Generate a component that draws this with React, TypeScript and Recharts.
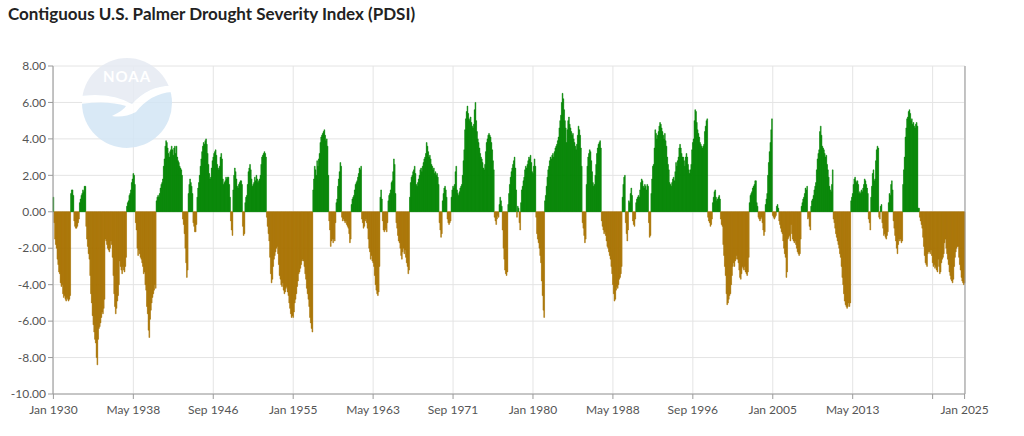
import React from "react";
import { BarChart, Bar, XAxis, YAxis, CartesianGrid, Cell } from "recharts";

// monthly contiguous U.S. PDSI, one row per year starting Jan 1930 (last row: Jan 2025)
const firstYear = 1930;
const monthNames = ["Jan", "Feb", "Mar", "Apr", "May", "Jun", "Jul", "Aug", "Sep", "Oct", "Nov", "Dec"];

const pdsiByYear: number[][] = [
  [0.8, -0.6, -1.5, -1.8, -2.0, -2.6, -2.9, -3.3, -3.4, -3.9, -4.1, -4.0],
  [-4.5, -4.7, -4.6, -4.8, -4.9, -4.7, -4.8, -4.9, -4.8, -4.6, 1.0, 1.2],
  [1.2, 0.9, -0.5, -0.8, -0.9, -0.9, -0.8, -0.6, -0.4, 0.5, 0.7, 0.9],
  [1.0, 1.2, 1.1, 1.4, 1.4, -0.8, -1.5, -1.9, -2.3, -2.6, -3.5, -4.5],
  [-5.0, -5.7, -6.2, -6.6, -7.0, -7.2, -8.0, -8.4, -7.0, -6.4, -6.3, -6.1],
  [-5.8, -5.5, -5.6, -5.3, -4.8, -1.5, -1.6, -1.8, -2.0, -2.1, -2.2, -2.0],
  [-1.6, -1.8, -2.5, -3.5, -4.5, -5.2, -5.6, -5.3, -4.9, -4.6, -4.0, -2.7],
  [-3.0, -3.2, -3.4, -3.0, -3.2, -3.3, -3.0, -2.5, 0.3, 0.5, 0.6, 0.9],
  [1.0, 1.2, 1.6, 1.8, 2.1, 2.0, 1.5, -0.6, -1.0, -2.0, -2.4, -2.1],
  [-2.3, -2.5, -2.6, -2.8, -3.0, -3.4, -3.3, -4.0, -4.3, -5.2, -5.6, -6.5],
  [-6.9, -5.9, -5.4, -5.0, -4.7, -4.5, -4.3, -4.0, -4.2, 0.6, 0.8, 0.9],
  [0.8, 1.0, 1.3, 1.5, 1.6, 1.8, 2.5, 2.9, 3.6, 3.9, 3.8, 3.5],
  [3.2, 3.0, 3.3, 3.4, 3.6, 3.4, 3.1, 3.5, 3.6, 3.2, 3.6, 3.0],
  [2.8, 2.7, 2.5, 2.4, 2.3, 2.0, -0.4, -0.7, -1.2, -2.0, -2.8, -3.6],
  [-3.2, 1.0, 1.5, 1.8, 1.6, 1.4, 1.0, -0.6, -0.8, -1.1, -1.1, -0.7],
  [0.8, 1.3, 1.6, 2.0, 2.5, 2.9, 3.3, 3.6, 3.8, 3.7, 3.9, 4.0],
  [3.7, 3.2, 2.6, 2.1, 1.8, 1.9, 2.4, 2.8, 3.0, 3.2, 3.3, 3.4],
  [3.1, 2.6, 2.4, 2.3, 2.5, 3.0, 3.2, 2.9, 1.8, 1.5, 1.6, 1.7],
  [1.9, 1.8, 1.9, 1.9, 1.5, 0.8, -0.5, -1.0, -1.3, 1.2, 2.0, 2.4],
  [2.2, 1.8, 1.4, 1.3, 1.5, 1.6, 1.7, 1.7, 1.5, -0.8, -1.3, -1.2],
  [0.5, 0.8, 0.9, 1.5, 2.2, 2.4, 2.6, 2.3, 1.8, 1.4, 1.5, 1.6],
  [1.9, 1.7, 2.0, 1.8, 1.6, 1.7, 1.8, 2.0, 2.6, 3.0, 3.1, 3.2],
  [3.3, 3.2, 3.0, -0.3, -0.8, -1.2, -1.6, -2.5, -3.4, -3.9, -3.7, -3.0],
  [-2.6, -2.4, -2.2, -2.0, -1.9, -2.3, -2.9, -3.5, -3.7, -4.0, -4.1, -3.9],
  [-4.3, -4.5, -4.4, -4.2, -4.1, -4.4, -4.6, -5.0, -5.3, -5.6, -5.8, -5.7],
  [-5.8, -5.5, -5.0, -4.8, -4.5, -4.1, -3.8, -3.4, -3.3, -3.1, -2.9, -2.7],
  [-2.6, -2.7, -3.0, -3.4, -3.7, -4.2, -4.5, -4.8, -5.2, -5.8, -6.1, -6.4],
  [-6.6, 1.2, 1.8, 2.5, 2.3, 2.0, 2.8, 2.5, 2.9, 3.2, 3.8, 4.1],
  [4.2, 4.3, 4.4, 4.5, 4.2, 3.9, 4.0, 3.6, 2.0, -0.5, -1.0, -1.9],
  [-1.6, -1.5, -1.7, -1.5, -1.6, -0.6, 0.5, 0.7, 1.4, 1.8, 2.2, 2.7],
  [2.5, -0.3, -0.5, -0.4, -0.5, -0.6, -0.5, -0.7, -0.8, -0.9, -1.2, -1.7],
  [-1.5, 0.4, 0.7, 0.8, 0.9, 1.2, 1.5, 1.6, 1.7, 1.9, 2.1, 2.4],
  [2.3, 2.5, -0.4, -0.6, -0.9, -0.8, -0.5, -0.4, -0.6, -0.9, -1.5, -2.0],
  [-2.2, -2.6, -2.4, -2.7, -2.8, -3.0, -3.5, -4.0, -4.3, -4.5, -4.6, -4.4],
  [-3.0, 0.8, 1.2, 0.7, -0.5, -1.0, -1.1, -1.0, -0.9, -1.1, -0.6, 0.6],
  [0.9, 1.0, 1.2, 1.6, 1.7, 2.2, 2.9, 2.6, 1.0, -0.6, -0.9, -1.3],
  [-1.6, -1.7, -2.0, -2.4, -2.6, -2.2, -2.0, -2.3, -2.1, -2.5, -2.8, -3.0],
  [-3.4, -3.2, 0.8, 1.6, 1.9, 2.0, 2.2, 2.3, 2.5, 2.1, 1.5, 1.4],
  [1.6, 1.8, 2.0, 2.3, 2.4, 2.2, 2.5, 2.7, 2.9, 3.0, 3.2, 3.8],
  [3.6, 3.3, 3.0, 3.1, 2.9, 2.6, 2.5, 2.3, 2.4, 2.1, 2.2, 2.0],
  [2.1, 1.9, 1.5, -0.6, -1.0, -1.4, -1.2, 0.6, 1.0, 1.3, 1.4, 1.2],
  [0.8, -0.4, -0.6, -0.7, -0.6, -0.5, 0.8, 1.2, 1.4, 1.3, 1.5, 2.2],
  [2.5, 1.2, 1.0, 0.9, 1.1, 1.3, 1.4, 1.5, 2.0, 2.8, 3.4, 4.5],
  [5.1, 5.5, 5.8, 5.4, 5.1, 5.0, 5.2, 4.9, 4.7, 4.6, 4.8, 5.6],
  [6.0, 5.0, 4.4, 4.0, 3.8, 3.5, 3.2, 3.0, 2.9, 2.7, 2.4, 2.3],
  [2.6, 3.3, 3.8, 4.0, 4.2, 4.3, 4.2, 4.1, 3.8, 3.4, 2.8, 2.3],
  [-0.3, -0.5, -0.7, -0.4, -0.2, -0.3, 0.4, 0.8, 0.6, 0.3, -1.0, -2.0],
  [-2.6, -3.2, -3.4, -3.5, -3.3, 0.4, 1.0, 1.5, 1.9, 2.2, 2.4, 2.6],
  [2.8, 3.0, 2.4, 1.2, -0.3, 0.3, 0.2, -0.6, -1.0, 0.5, 1.2, 1.4],
  [1.7, 1.9, 2.3, 2.5, 2.4, 2.6, 2.8, 3.0, 2.9, 3.1, 2.7, 2.2],
  [2.1, 2.5, 2.9, 2.5, -0.3, -1.2, -1.5, -1.7, -2.0, -2.4, -2.8, -3.8],
  [-4.6, -5.4, -5.8, 0.6, 0.9, 1.4, 1.9, 2.3, 2.5, 2.8, 3.0, 2.9],
  [3.1, 3.2, 3.0, 3.3, 3.5, 3.6, 3.7, 3.9, 4.1, 4.6, 5.0, 5.3],
  [6.0, 6.5, 6.2, 5.6, 5.0, 4.6, 3.8, 4.5, 5.0, 5.2, 4.8, 4.6],
  [4.4, 4.2, 4.3, 4.0, 3.8, 3.6, 3.4, 3.7, 4.2, 4.7, 4.5, 4.2],
  [3.5, 2.5, -0.6, -0.9, -1.3, -1.7, -1.5, 1.5, 2.5, 3.0, 3.2, 3.4],
  [3.3, 2.8, 2.2, 1.6, 1.4, 1.5, 2.0, 2.6, 3.2, 3.5, 3.7, 3.8],
  [3.9, 3.5, -0.5, -0.8, -1.0, -1.2, -1.1, -1.3, -1.6, -1.9, -2.0, -2.2],
  [-2.4, -2.6, -3.0, -3.4, -4.0, -4.5, -4.9, -4.8, -4.3, -4.1, -4.2, -4.0],
  [-3.7, -3.6, -3.4, -3.0, 0.8, 1.5, 1.9, 2.0, -0.6, -1.2, -1.6, -1.0],
  [0.6, 0.5, 1.0, 1.3, 0.9, -0.5, -0.7, -0.8, -0.4, 0.5, 0.7, 0.8],
  [0.9, 0.8, 1.2, 1.6, 1.8, 1.7, 1.4, 1.3, 1.5, 1.4, 1.2, 1.5],
  [1.4, -0.6, -1.4, -1.3, 1.0, 1.8, 2.5, 2.6, 3.5, 4.5, 4.3, 4.0],
  [4.2, 4.4, 4.7, 4.9, 4.8, 4.6, 4.4, 4.2, 4.0, 4.3, 3.9, 3.6],
  [3.0, 2.6, 2.3, 1.6, 1.5, 1.4, 1.6, 1.8, 1.9, 1.7, 2.2, 2.7],
  [2.5, 2.8, 3.0, 3.5, 3.7, 3.5, 3.2, 3.0, 3.0, 2.8, 2.5, 3.0],
  [3.2, 3.0, 2.6, 2.3, 2.1, 2.3, 2.6, 3.4, 3.8, 4.0, 5.0, 5.6],
  [5.5, 4.9, 4.5, 4.3, 4.1, 3.8, 3.7, 3.6, 3.5, 3.6, 3.7, 4.4],
  [4.7, 5.0, 5.1, -0.3, -0.5, -0.6, -0.8, -0.7, -0.4, 0.5, 0.8, 1.1],
  [1.2, 0.8, 0.6, 0.7, 0.8, 0.9, 0.7, -0.4, -0.7, -0.8, -1.8, -2.4],
  [-3.0, -3.5, -4.5, -5.1, -5.0, -4.8, -4.6, -4.5, -4.0, -3.5, -3.0, -2.8],
  [-3.0, -2.7, -2.6, -2.4, -2.6, -2.8, -3.2, -3.6, -3.7, -3.4, -3.0, -3.1],
  [-3.2, -3.0, -3.3, -3.4, -3.5, -3.3, -2.5, 0.5, 0.9, 1.0, 1.1, 1.3],
  [1.4, 1.5, 1.7, 1.7, 0.5, 0.3, -0.3, -0.4, -0.5, -0.4, -0.3, -0.6],
  [-1.0, -1.3, -1.1, 0.4, 0.7, 1.0, 2.0, 2.7, 3.3, 3.8, 4.5, 5.1],
  [-0.2, -0.3, -0.4, -0.3, -0.2, 0.3, 0.4, 0.2, -0.5, -0.7, -0.9, -1.1],
  [-1.2, -1.6, -2.0, -2.3, -2.5, -3.6, -3.3, -1.5, -1.4, -1.3, -1.6, -0.7],
  [-1.2, -1.5, -1.6, -1.7, -1.6, -1.8, -2.0, -2.2, -2.3, -2.4, -2.3, -1.5],
  [0.3, 0.5, 0.7, 0.8, 1.0, 1.3, 1.2, 1.4, -0.4, -0.3, -0.8, -1.0],
  [0.3, 0.6, 0.7, 0.9, 1.2, 1.4, 1.6, 2.3, 2.9, 3.2, 3.4, 4.4],
  [4.7, 4.2, 3.6, 3.5, 3.4, 3.2, 3.0, 3.1, 2.6, 2.3, 1.9, 1.4],
  [1.2, 1.1, 1.5, 2.3, -0.4, -0.6, -0.9, -1.2, -1.4, -1.6, -1.8, -2.0],
  [-2.3, -2.5, -3.0, -3.6, -4.0, -4.5, -4.9, -5.1, -5.2, -5.3, -5.2, -5.0],
  [-5.2, -5.0, 0.6, 0.8, 1.0, 1.5, 1.8, 1.9, 1.7, 1.6, 1.7, 1.5],
  [1.0, 1.1, 1.0, 1.2, 1.1, 1.3, 1.5, 1.8, 1.7, 1.5, 1.3, 1.0],
  [-0.4, -0.6, -1.0, 0.8, 1.4, 2.1, 2.3, 1.7, 1.8, 2.8, 3.4, 3.6],
  [3.5, -0.3, -0.4, 0.3, 0.4, -0.6, -0.9, -1.3, -1.2, -1.4, -1.5, -1.3],
  [-1.1, 0.5, 1.0, 0.9, 1.5, 1.7, 1.2, -0.5, -0.9, -1.3, -1.6, -2.0],
  [-2.3, -1.8, -1.5, -1.6, -1.5, -1.7, -1.6, 1.5, 2.3, 3.0, 4.1, 4.6],
  [5.1, 5.2, 5.5, 5.6, 5.4, 5.0, 5.1, 4.8, 4.9, 4.7, 4.6, 4.8],
  [4.9, 4.7, 0.2, 0.2, -0.3, -0.5, -0.7, -0.9, -1.4, -1.9, -2.4, -2.8],
  [-2.9, -3.0, -2.3, -2.2, -2.2, -2.3, -2.1, -2.4, -2.8, -3.0, -2.9, -3.1],
  [-3.0, -3.2, -3.3, -2.6, -3.0, -3.4, -3.3, -2.8, -2.6, -2.5, -2.3, -1.7],
  [-1.5, -2.0, -2.3, -2.6, -2.9, -3.3, -3.5, -3.7, -3.8, -3.9, -3.7, -3.0],
  [-2.5, -2.2, -2.0, -1.9, -1.9, -2.5, -2.9, -3.2, -3.6, -3.8, -3.9, -4.0],
  [-3.9],
];

const xTicks = [
  "Jan 1930", "May 1938", "Sep 1946", "Jan 1955", "May 1963", "Sep 1971",
  "Jan 1980", "May 1988", "Sep 1996", "Jan 2005", "May 2013", "Sep 2021", "Jan 2025",
];
// tick kept for its gridline, label dropped (it would overlap the last one)
const hiddenXLabels = ["Sep 2021"];
const yTicks = [-10, -8, -6, -4, -2, 0, 2, 4, 6, 8];

const GREEN = "#008400";
const BROWN = "#a87300";
const FONT = "Lato, 'Open Sans', sans-serif";

const data = pdsiByYear.flatMap((row, yi) =>
  row.map((v, mi) => ({ month: `${monthNames[mi]} ${firstYear + yi}`, pdsi: v })),
);

const tickStyle = { fill: "#555", fontSize: 12, fontFamily: FONT };

const NoaaMark = () => (
  <svg
    width={1024}
    height={436}
    style={{ position: "absolute", left: 0, top: 0, pointerEvents: "none" }}
  >
    <defs>
      <clipPath id="noaaClip">
        <circle cx={127} cy={103} r={45} />
      </clipPath>
    </defs>
    <g clipPath="url(#noaaClip)" opacity={0.85}>
      <rect x={80} y={56} width={95} height={95} fill="#d3e6f5" />
      <path d="M80 56 H175 V86 Q150 84 132 104 Q112 92 80 96 Z" fill="#e6eaf2" />
      <path
        d="M80 96 Q112 92 132 104 Q150 84 175 86 L175 92 Q152 92 136 112 Q124 118 112 116 Q124 110 126 106 Q108 100 80 104 Z"
        fill="#ffffff"
      />
    </g>
    <text
      x={127}
      y={82}
      textAnchor="middle"
      fontFamily={FONT}
      fontWeight={700}
      fontSize={15}
      fill="#ffffff"
      letterSpacing={1}
    >
      NOAA
    </text>
  </svg>
);

export default function App() {
  return (
    <div
      style={{
        position: "absolute",
        left: 0,
        top: 0,
        width: 1024,
        height: 436,
        background: "#fff",
        fontFamily: FONT,
      }}
    >
      <div
        style={{
          position: "absolute",
          left: 8,
          top: 4,
          fontSize: 17,
          lineHeight: "20px",
          fontWeight: 700,
          color: "#222",
        }}
      >
        Contiguous U.S. Palmer Drought Severity Index (PDSI)
      </div>
      <BarChart
        width={1024}
        height={436}
        data={data}
        margin={{ top: 66, right: 0, bottom: 0, left: 0 }}
        barCategoryGap={0}
        barGap={0}
      >
        <CartesianGrid yAxisId="left" stroke="#e4e4e4" />
        <XAxis
          dataKey="month"
          ticks={xTicks}
          interval={0}
          height={42}
          stroke="#9a9a9a"
          tickSize={5}
          tickMargin={6}
          tick={tickStyle}
          tickFormatter={(v: string) => (hiddenXLabels.includes(v) ? "" : v)}
        />
        <YAxis
          yAxisId="left"
          width={53}
          domain={[-10, 8]}
          ticks={yTicks}
          interval={0}
          stroke="#9a9a9a"
          tickSize={5}
          tick={tickStyle}
          tickFormatter={(v: number) => v.toFixed(2)}
        />
        <YAxis
          yAxisId="right"
          orientation="right"
          width={59}
          domain={[-10, 8]}
          ticks={yTicks}
          interval={0}
          stroke="#9a9a9a"
          tickSize={5}
          tick={tickStyle}
          tickFormatter={(v: number) => v.toFixed(2)}
        />
        <Bar yAxisId="left" dataKey="pdsi" isAnimationActive={false}>
          {data.map((d, i) => {
            const c = d.pdsi >= 0 ? GREEN : BROWN;
            return <Cell key={i} fill={c} stroke={c} strokeWidth={0.5} />;
          })}
        </Bar>
      </BarChart>
      <NoaaMark />
    </div>
  );
}
